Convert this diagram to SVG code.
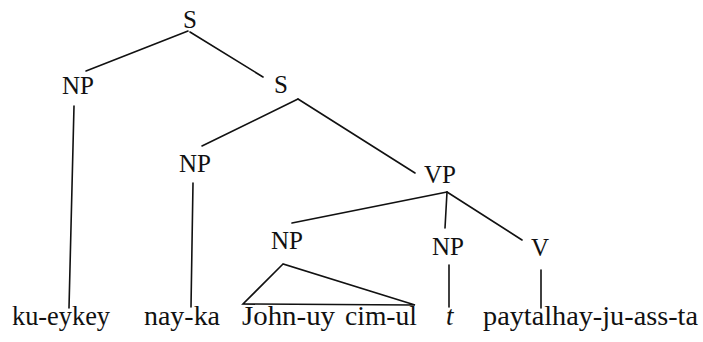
<svg xmlns="http://www.w3.org/2000/svg" width="703" height="342" viewBox="0 0 703 342" font-family="Times New Roman, Liberation Serif, serif" fill="#111">
  <rect width="703" height="342" fill="#fff"/>

  <!-- tree branches -->
  <g id="connectors" stroke="#111" stroke-width="1.6" fill="none" stroke-linecap="round">
    <line x1="188" y1="31" x2="86" y2="71"/>
    <line x1="190" y1="32" x2="263" y2="77"/>
    <line x1="74" y1="106" x2="69" y2="308"/>
    <line x1="298" y1="99" x2="202" y2="146"/>
    <line x1="298" y1="99" x2="415" y2="173"/>
    <line x1="193" y1="183" x2="191" y2="307"/>
    <line x1="447" y1="192" x2="292" y2="223"/>
    <line x1="447" y1="192" x2="445" y2="228"/>
    <line x1="447" y1="192" x2="522" y2="240"/>
    <line x1="449" y1="265" x2="449" y2="307"/>
    <line x1="541" y1="270" x2="541" y2="308"/>
    <!-- roof over the embedded clause -->
    <polygon points="283,264 243,304 415,305"/>
  </g>

  <g font-size="25" text-anchor="middle">
    <g id="s-root"><text x="190" y="28">S</text></g>
    <g id="np-topic"><text x="78" y="94">NP</text></g>
    <g id="s-inner"><text x="281" y="93">S</text></g>
    <g id="np-subject"><text x="195" y="172">NP</text></g>
    <g id="vp"><text x="440" y="183">VP</text></g>
    <g id="np-clause"><text x="287" y="249">NP</text></g>
    <g id="np-trace"><text x="448" y="255">NP</text></g>
    <g id="v"><text x="540" y="256">V</text></g>
  </g>

  <g id="words" font-size="27">
    <text x="12" y="325" textLength="98" lengthAdjust="spacingAndGlyphs">ku-eykey</text>
    <text x="144" y="325" textLength="76" lengthAdjust="spacingAndGlyphs">nay-ka</text>
    <text x="242" y="325" textLength="93" lengthAdjust="spacingAndGlyphs">John-uy</text>
    <text x="345" y="325" textLength="72" lengthAdjust="spacingAndGlyphs">cim-ul</text>
    <text x="446" y="325" font-style="italic">t</text>
    <text x="483" y="325" textLength="215" lengthAdjust="spacingAndGlyphs">paytalhay-ju-ass-ta</text>
  </g>
</svg>
